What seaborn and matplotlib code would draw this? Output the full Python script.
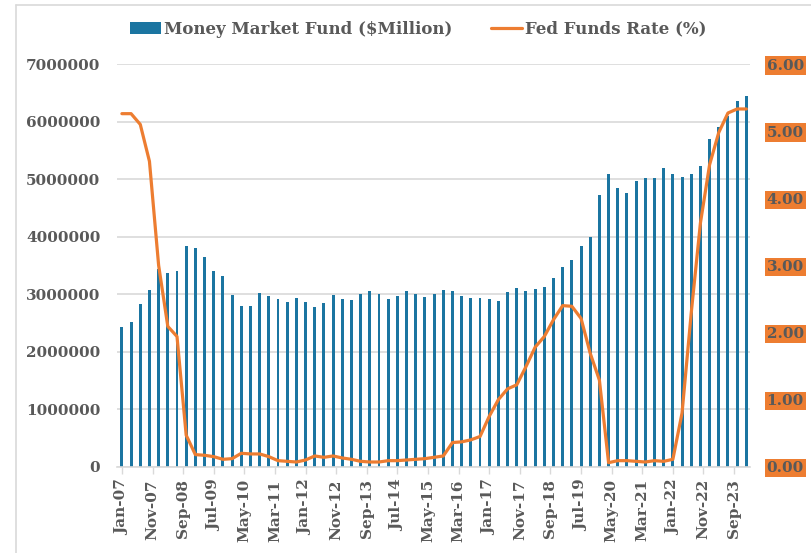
import matplotlib.pyplot as plt
import matplotlib.patches as mpatches
import matplotlib.lines as mlines
import seaborn as sns
import numpy as np
import pandas as pd

# quarterly observations, Jan-07 .. Jan-24
quarters = pd.date_range('2007-01-01', '2024-01-01', freq='QS')

money_market = [
    2420000, 2510000, 2830000, 3080000, 3440000, 3370000, 3410000, 3830000, 3810000, 3650000,
    3410000, 3310000, 2980000, 2800000, 2790000, 3020000, 2970000, 2920000, 2870000, 2930000,
    2860000, 2780000, 2850000, 2990000, 2910000, 2890000, 3010000, 3050000, 3000000, 2910000,
    2960000, 3060000, 3000000, 2950000, 3010000, 3070000, 3060000, 2960000, 2940000, 2940000,
    2920000, 2880000, 3030000, 3110000, 3060000, 3090000, 3130000, 3280000, 3480000, 3600000,
    3840000, 4000000, 4720000, 5080000, 4840000, 4760000, 4970000, 5020000, 5020000, 5200000,
    5090000, 5030000, 5080000, 5220000, 5690000, 5900000, 6100000, 6360000, 6440000,
]

fed_funds = [
    5.26, 5.26, 5.10, 4.55, 3.00, 2.09, 1.94, 0.47, 0.18, 0.17,
    0.15, 0.11, 0.12, 0.20, 0.19, 0.19, 0.15, 0.09, 0.08, 0.07,
    0.10, 0.16, 0.14, 0.16, 0.13, 0.11, 0.08, 0.07, 0.07, 0.09,
    0.09, 0.10, 0.11, 0.12, 0.14, 0.16, 0.36, 0.37, 0.40, 0.45,
    0.75, 1.00, 1.16, 1.22, 1.49, 1.78, 1.94, 2.19, 2.40, 2.39,
    2.21, 1.69, 1.29, 0.06, 0.09, 0.09, 0.08, 0.07, 0.09, 0.08,
    0.11, 0.80, 2.29, 3.63, 4.50, 4.98, 5.27, 5.33, 5.33,
]

# x tick labels every 10 months
tick_dates = pd.date_range('2007-01-01', periods=21, freq='10MS')
tick_labels = [d.strftime('%b-%y') for d in tick_dates]

BAR_COLOR = '#1B75A1'
LINE_COLOR = '#ED7D31'
TEXT_COLOR = '#595959'
GRID_COLOR = '#D9D9D9'
FONT = 'DejaVu Serif'


def months_since_start(dates, start):
    return [(d.year - start.year) * 12 + (d.month - start.month) for d in dates]


start = quarters[0]
df = pd.DataFrame({
    'month': months_since_start(quarters, start),
    'mmf': money_market,
    'rate': fed_funds,
})
tick_pos = months_since_start(tick_dates, start)

sns.set_style('white')
plt.rcParams['font.family'] = [FONT, 'DejaVu Sans']

fig = plt.figure(figsize=(8.11, 5.53), dpi=100)
ax = fig.add_axes([117 / 811, 1 - 466.7 / 553, (750 - 117) / 811, (466.7 - 64) / 553])

sns.barplot(data=df, x='month', y='mmf', native_scale=True, width=0.32,
            color=BAR_COLOR, saturation=1, errorbar=None, linewidth=0, ax=ax)

ax2 = ax.twinx()
sns.lineplot(data=df, x='month', y='rate', color=LINE_COLOR, linewidth=2.3,
             legend=False, ax=ax2)

ax.set_xlim(-1.6, 205.2)
ax.set_ylim(0, 7000000)
ax2.set_ylim(0, 6)

ax.set_yticks(np.arange(0, 7000001, 1000000))
ax.set_yticklabels([f'{int(v)}' for v in np.arange(0, 7000001, 1000000)])
ax2.set_yticks(np.arange(0, 6.01, 1))
ax2.set_yticklabels([f'{v:.2f}' for v in np.arange(0, 6.01, 1)])

ax.set_xticks(tick_pos)
ax.set_xticklabels(tick_labels, rotation=90)

ax.set_xlabel('')
ax.set_ylabel('')
ax2.set_xlabel('')
ax2.set_ylabel('')

for a in (ax, ax2):
    for side in ['top', 'left', 'right', 'bottom']:
        a.spines[side].set_visible(False)
ax.spines['bottom'].set_visible(True)
ax.spines['bottom'].set_color(GRID_COLOR)
ax.spines['bottom'].set_linewidth(1.2)

ax.grid(True, axis='y', color=GRID_COLOR, linewidth=1.2)
ax.grid(False, axis='x')
ax.set_axisbelow(True)

ax.tick_params(axis='y', length=0, pad=12, labelsize=11, labelcolor=TEXT_COLOR)
ax.tick_params(axis='x', length=5, width=1, color=GRID_COLOR, direction='out',
               pad=4, labelsize=11, labelcolor=TEXT_COLOR, bottom=True)
ax2.tick_params(axis='y', length=0, pad=12, labelsize=11, labelcolor=TEXT_COLOR)

for lbl in ax.get_xticklabels() + ax.get_yticklabels() + ax2.get_yticklabels():
    lbl.set_fontweight('bold')
for lbl in ax2.get_yticklabels():
    lbl.set_bbox(dict(facecolor=LINE_COLOR, edgecolor='none', pad=1.5))

handles = [
    mpatches.Patch(facecolor=BAR_COLOR, edgecolor='none', label='Money Market Fund ($Million)'),
    mlines.Line2D([], [], color=LINE_COLOR, linewidth=2.3, label='Fed Funds Rate (%)'),
]
legend = fig.legend(handles=handles, loc='center', bbox_to_anchor=(418 / 811, 1 - 29 / 553),
                    ncol=2, frameon=False, handlelength=1.9, handletextpad=0.15,
                    columnspacing=2.3, prop={'family': FONT, 'weight': 'bold', 'size': 12})
for text in legend.get_texts():
    text.set_color(TEXT_COLOR)

# light chart border (left and top)
fig.add_artist(mlines.Line2D([16 / 811, 16 / 811], [0, 1 - 5 / 553],
                             color=GRID_COLOR, linewidth=1.2))
fig.add_artist(mlines.Line2D([16 / 811, 1], [1 - 5 / 553, 1 - 5 / 553],
                             color=GRID_COLOR, linewidth=1.2))

fig.savefig('out.png', dpi=100, facecolor='white')
